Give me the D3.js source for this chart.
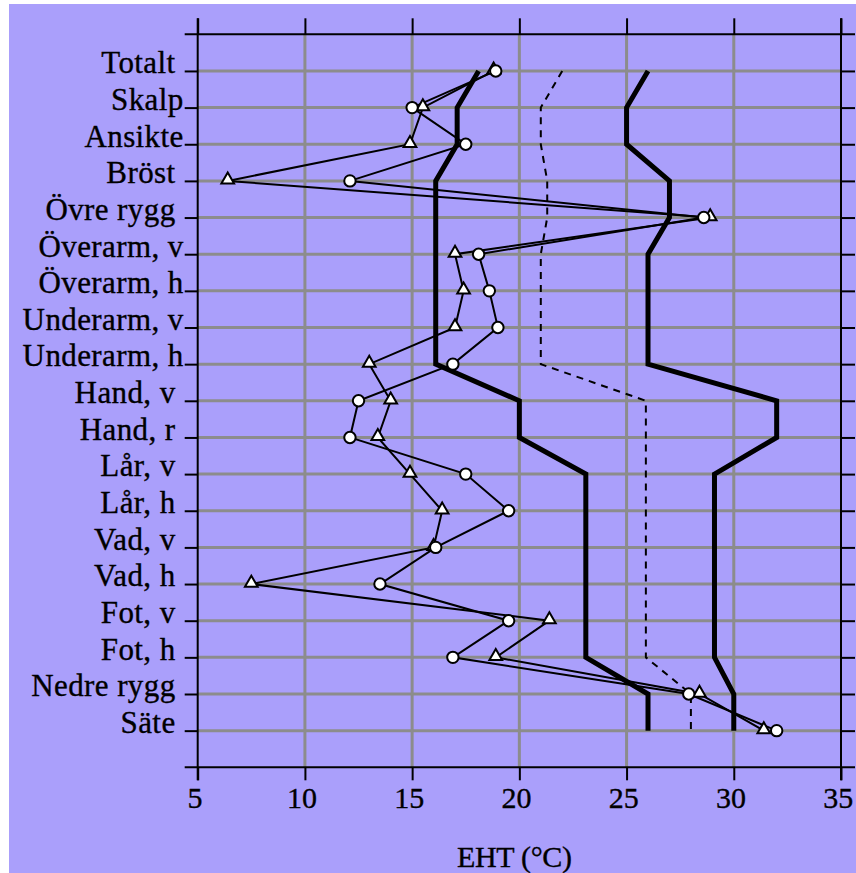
<!DOCTYPE html>
<html>
<head>
<meta charset="utf-8">
<script src="https://cdn.jsdelivr.net/npm/d3@7"></script>
<style>
  html, body { margin: 0; padding: 0; background: #ffffff; }
  svg { display: block; }
  text { font-family: "Liberation Serif", "Times New Roman", serif; fill: #000; stroke: #000; stroke-width: 0.35px; }
</style>
</head>
<body>
<svg id="chart" width="856" height="873"></svg>
<script>
// Body regions (top to bottom)
const categories = ["Totalt", "Skalp", "Ansikte", "Bröst", "Övre rygg", "Överarm, v", "Överarm, h",
  "Underarm, v", "Underarm, h", "Hand, v", "Hand, r", "Lår, v", "Lår, h", "Vad, v", "Vad, h",
  "Fot, v", "Fot, h", "Nedre rygg", "Säte"];
// Axis labels as printed (some carry a trailing space)
const categoryLabels = ["Totalt ", "Skalp", "Ansikte", "Bröst ", "Övre rygg ", "Överarm, v", "Överarm, h",
  "Underarm, v", "Underarm, h", "Hand, v ", "Hand, r ", "Lår, v ", "Lår, h ", "Vad, v ", "Vad, h ",
  "Fot, v ", "Fot, h ", "Nedre rygg ", "Säte "];

// Measured EHT (°C), series drawn with circle markers
const circleSeries = [18.9, 15.0, 17.5, 12.1, 28.6, 18.1, 18.6, 19.0, 16.9, 12.5, 12.1, 17.5, 19.5, 16.1, 13.5, 19.5, 16.9, 27.9, 32.0];
// Measured EHT (°C), series drawn with triangle markers
const triangleSeries = [18.8, 15.5, 14.9, 6.4, 28.9, 17.0, 17.4, 17.0, 13.0, 14.0, 13.4, 14.9, 16.4, 16.0, 7.5, 21.4, 18.9, 28.4, 31.4];
// Comfort zone: lower limit, upper limit and optimum
const lowerLimit = [18.1, 17.1, 17.1, 16.1, 16.1, 16.1, 16.1, 16.1, 16.1, 20.0, 20.0, 23.1, 23.1, 23.1, 23.1, 23.1, 23.1, 26.0, 26.0];
const upperLimit = [26.0, 25.0, 25.0, 27.0, 27.0, 26.0, 26.0, 26.0, 26.0, 32.0, 32.0, 29.1, 29.1, 29.1, 29.1, 29.1, 29.1, 30.0, 30.0];
const optimum = [22.0, 21.0, 21.0, 21.3, 21.3, 21.0, 21.0, 21.0, 21.0, 25.9, 25.9, 25.9, 25.9, 25.9, 25.9, 25.9, 25.9, 28.0, 28.0];

const xTicks = [5, 10, 15, 20, 25, 30, 35];
const xGrid = [10, 15, 20, 25, 30];
const xTitle = "EHT (°C)";

const svg = d3.select("#chart");
const plot = { left: 197.7, right: 841, top: 34.3, bottom: 767.3 };

// Lavender panel
svg.append("rect").attr("x", 9).attr("y", 4).attr("width", 847).attr("height", 869).attr("fill", "#aa9ffb");

const x = d3.scaleLinear().domain([5, 35]).range([plot.left, plot.right]);
const y = d3.scalePoint().domain(categories).range([plot.top, plot.bottom]).padding(1);

// Grid
const grid = svg.append("g").attr("stroke", "#8c8c8c").attr("stroke-width", 3);
grid.selectAll("line.h").data(categories).join("line").attr("class", "h")
  .attr("x1", plot.left).attr("x2", plot.right)
  .attr("y1", d => y(d)).attr("y2", d => y(d));
grid.selectAll("line.v").data(xGrid).join("line").attr("class", "v")
  .attr("x1", d => x(d)).attr("x2", d => x(d))
  .attr("y1", plot.top).attr("y2", plot.bottom);

// Axes (ticks on all four sides)
function styleAxis(g) {
  g.select(".domain").remove();
  g.selectAll(".tick line").attr("stroke", "#000").attr("stroke-width", 2);
}
svg.append("g").attr("transform", `translate(0,${plot.top})`)
  .call(d3.axisTop(x).tickValues(xTicks).tickSize(16).tickFormat(""))
  .call(styleAxis);
const bottomAxis = svg.append("g").attr("transform", `translate(0,${plot.bottom})`)
  .call(d3.axisBottom(x).tickValues(xTicks).tickSize(13).tickFormat(d3.format("d")))
  .call(styleAxis);
bottomAxis.selectAll(".tick text")
  .attr("y", 40.7).attr("dy", null).attr("x", -3.3)
  .style("font-size", "30px").style("font-family", "'Liberation Serif', serif").attr("fill", "#000");

const leftAxis = svg.append("g").attr("transform", `translate(${plot.left},0)`)
  .call(d3.axisLeft(y).tickSize(13).tickFormat((d, i) => categoryLabels[i]))
  .call(styleAxis);
leftAxis.selectAll(".tick text")
  .attr("x", -14).attr("dy", null).attr("y", 1.8)
  .style("font-size", "31px").style("font-family", "'Liberation Serif', serif")
  .style("letter-spacing", "0.4px").style("white-space", "pre").attr("fill", "#000");

svg.append("g").attr("transform", `translate(${plot.right},0)`)
  .call(d3.axisRight(y).tickSize(14).tickFormat(""))
  .call(styleAxis);

// Frame lines, extended through the corners
const frame = svg.append("g").attr("stroke", "#000").attr("stroke-width", 2);
frame.append("line").attr("x1", plot.left - 13).attr("x2", plot.right + 14).attr("y1", plot.top).attr("y2", plot.top);
frame.append("line").attr("x1", plot.left - 13).attr("x2", plot.right + 14).attr("y1", plot.bottom).attr("y2", plot.bottom);
frame.append("line").attr("x1", plot.left).attr("x2", plot.left).attr("y1", plot.top - 16).attr("y2", plot.bottom + 13);
frame.append("line").attr("x1", plot.right).attr("x2", plot.right).attr("y1", plot.top - 16).attr("y2", plot.bottom + 13);

// Axis title
svg.append("text").attr("x", (plot.left + plot.right) / 2 - 5).attr("y", 866.5)
  .attr("text-anchor", "middle").style("font-size", "30px").style("letter-spacing", "-0.3px")
  .text(xTitle);

// Line generator
const line = d3.line().x(d => x(d.v)).y(d => y(d.c));
const pts = vals => categories.map((c, i) => ({ c, v: vals[i] }));

// Comfort zone limits and optimum
[lowerLimit, upperLimit].forEach(vals => {
  svg.append("path").attr("d", line(pts(vals)))
    .attr("fill", "none").attr("stroke", "#000").attr("stroke-width", 5)
    .attr("stroke-linejoin", "miter");
});
svg.append("path").attr("d", line(pts(optimum)))
  .attr("fill", "none").attr("stroke", "#000").attr("stroke-width", 2)
  .attr("stroke-linejoin", "round")
  .attr("stroke-dasharray", "7,6");

// Measured series: triangles first, circles on top
svg.append("path").attr("d", line(pts(triangleSeries)))
  .attr("fill", "none").attr("stroke", "#000").attr("stroke-width", 2);
svg.append("path").attr("d", line(pts(circleSeries)))
  .attr("fill", "none").attr("stroke", "#000").attr("stroke-width", 2);

const tri = d3.symbol().type(d3.symbolTriangle).size(70);
svg.append("g").selectAll("path").data(pts(triangleSeries)).join("path")
  .attr("transform", d => `translate(${x(d.v)},${y(d.c) - 1})`)
  .attr("d", tri).attr("fill", "#fff").attr("stroke", "#000").attr("stroke-width", 2);
svg.append("g").selectAll("circle").data(pts(circleSeries)).join("circle")
  .attr("cx", d => x(d.v)).attr("cy", d => y(d.c)).attr("r", 5.7)
  .attr("fill", "#fff").attr("stroke", "#000").attr("stroke-width", 2);
</script>
</body>
</html>
